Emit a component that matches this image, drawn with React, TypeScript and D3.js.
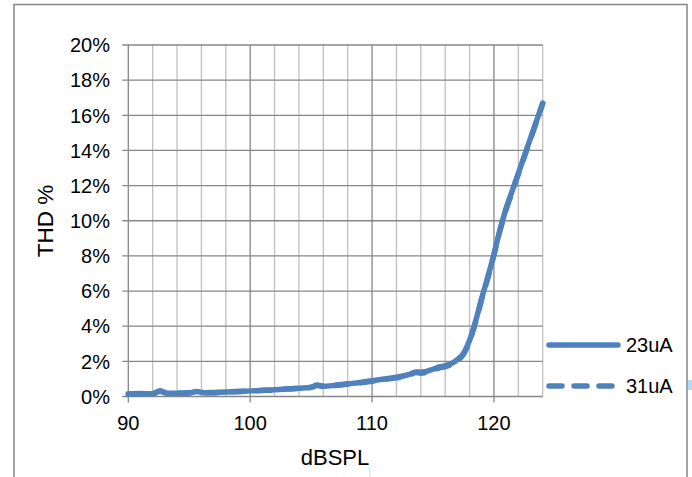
import React from "react";
import * as d3 from "d3";

const spl = [90, 91, 92, 92.6, 93.2, 94, 95, 95.6, 96.2, 97, 98, 99, 100, 101, 102, 103, 104, 105, 105.5, 106, 107, 108, 109, 110, 111, 112, 113, 113.6, 114, 115, 115.5, 116, 116.7, 117, 117.5, 118, 118.5, 119, 119.5, 120, 120.5, 121, 121.5, 122, 122.5, 123, 123.5, 124];
const thd23 = [0.15, 0.17, 0.15, 0.33, 0.18, 0.18, 0.2, 0.28, 0.22, 0.23, 0.25, 0.28, 0.32, 0.34, 0.38, 0.42, 0.47, 0.53, 0.65, 0.58, 0.64, 0.72, 0.8, 0.9, 1.0, 1.1, 1.25, 1.4, 1.38, 1.55, 1.68, 1.75, 1.95, 2.1, 2.45, 3.2, 4.3, 5.6, 6.8, 8.1, 9.5, 10.7, 11.7, 12.7, 13.7, 14.7, 15.7, 16.7];
const thd31 = [0.13, 0.15, 0.16, 0.3, 0.17, 0.19, 0.21, 0.26, 0.21, 0.22, 0.26, 0.29, 0.31, 0.35, 0.37, 0.43, 0.46, 0.52, 0.62, 0.57, 0.63, 0.7, 0.78, 0.87, 0.97, 1.06, 1.2, 1.36, 1.33, 1.5, 1.62, 1.7, 1.9, 2.05, 2.4, 3.15, 4.25, 5.55, 6.75, 8.05, 9.45, 10.65, 11.65, 12.65, 13.65, 14.65, 15.65, 16.65];
const seriesNames = ["23uA", "31uA"];
const xMajorTicks = [90, 100, 110, 120];
const xMinorTicks = [92, 94, 96, 98, 102, 104, 106, 108, 112, 114, 116, 118, 122, 124];
const yTicks = [0, 2, 4, 6, 8, 10, 12, 14, 16, 18, 20];

const BLUE = "#4F81BD";
const DARK = "#868686";
const LIGHT = "#C0C0C0";
const FONT = "Arial, 'Liberation Sans', sans-serif";

export default function App() {
  const x = d3.scaleLinear().domain([90, 124]).range([128.3, 542.7]);
  const y = d3.scaleLinear().domain([0, 20]).range([396.5, 45]);
  const line = d3
    .line<number>()
    .x((_, i) => x(spl[i]))
    .y((d) => y(d))
    .curve(d3.curveMonotoneX);
  const [x0, x1] = x.range();
  const [yb, yt] = y.range();

  return (
    <svg width={692} height={477} style={{ position: "absolute", left: 0, top: 0, background: "#fff" }}>
      {/* frame */}
      <path d="M14,480 L14,4.5 L687,4.5 L687,480" fill="none" stroke={DARK} strokeWidth={1.5} />
      <line x1={370} x2={370} y1={468} y2={477} stroke="#C9DCEF" strokeWidth={1} />
      <rect x={688} y={380} width={4} height={10} fill="#BDD7EE" />

      {/* minor vertical grid */}
      {xMinorTicks.map((t) => (
        <line key={"mv" + t} x1={x(t)} x2={x(t)} y1={yt} y2={yb} stroke={LIGHT} strokeWidth={1.3} />
      ))}
      {/* major vertical grid */}
      {xMajorTicks.map((t) => (
        <line key={"Mv" + t} x1={x(t)} x2={x(t)} y1={yt} y2={yb + 6} stroke={DARK} strokeWidth={1.3} />
      ))}
      {/* horizontal grid + ticks */}
      {yTicks.map((t) => (
        <line key={"h" + t} x1={x0 - 6} x2={x1} y1={y(t)} y2={y(t)} stroke={DARK} strokeWidth={1.3} />
      ))}

      {/* y tick labels */}
      {yTicks.map((t) => (
        <text key={"yl" + t} x={110} y={y(t)} dy="0.36em" textAnchor="end" fontFamily={FONT} fontSize={20} fill="#000">
          {t}%
        </text>
      ))}
      {/* x tick labels */}
      {xMajorTicks.map((t) => (
        <text key={"xl" + t} x={x(t)} y={430} textAnchor="middle" fontFamily={FONT} fontSize={20} fill="#000">
          {t}
        </text>
      ))}

      {/* axis titles */}
      <text x={335} y={465} textAnchor="middle" fontFamily={FONT} fontSize={22} fill="#000">
        dBSPL
      </text>
      <text
        transform={`translate(53,221) rotate(-90)`}
        textAnchor="middle"
        fontFamily={FONT}
        fontSize={22.5}
        fill="#000"
      >
        THD %
      </text>

      {/* series */}
      <path d={line(thd23) || ""} fill="none" stroke={BLUE} strokeWidth={5.5} strokeLinejoin="round" strokeLinecap="round" />
      <path d={line(thd31) || ""} fill="none" stroke={BLUE} strokeWidth={5.5} strokeLinejoin="round" strokeLinecap="round" strokeDasharray="13 13" />

      {/* legend */}
      <line x1={549} x2={618} y1={345} y2={345} stroke={BLUE} strokeWidth={5.5} strokeLinecap="round" />
      <text x={626} y={345} dy="0.36em" fontFamily={FONT} fontSize={20} fill="#000">
        {seriesNames[0]}
      </text>
      <line x1={549} x2={612} y1={386} y2={386} stroke={BLUE} strokeWidth={5.5} strokeLinecap="round" strokeDasharray="13 12" />
      <text x={626} y={386} dy="0.36em" fontFamily={FONT} fontSize={20} fill="#000">
        {seriesNames[1]}
      </text>
    </svg>
  );
}
